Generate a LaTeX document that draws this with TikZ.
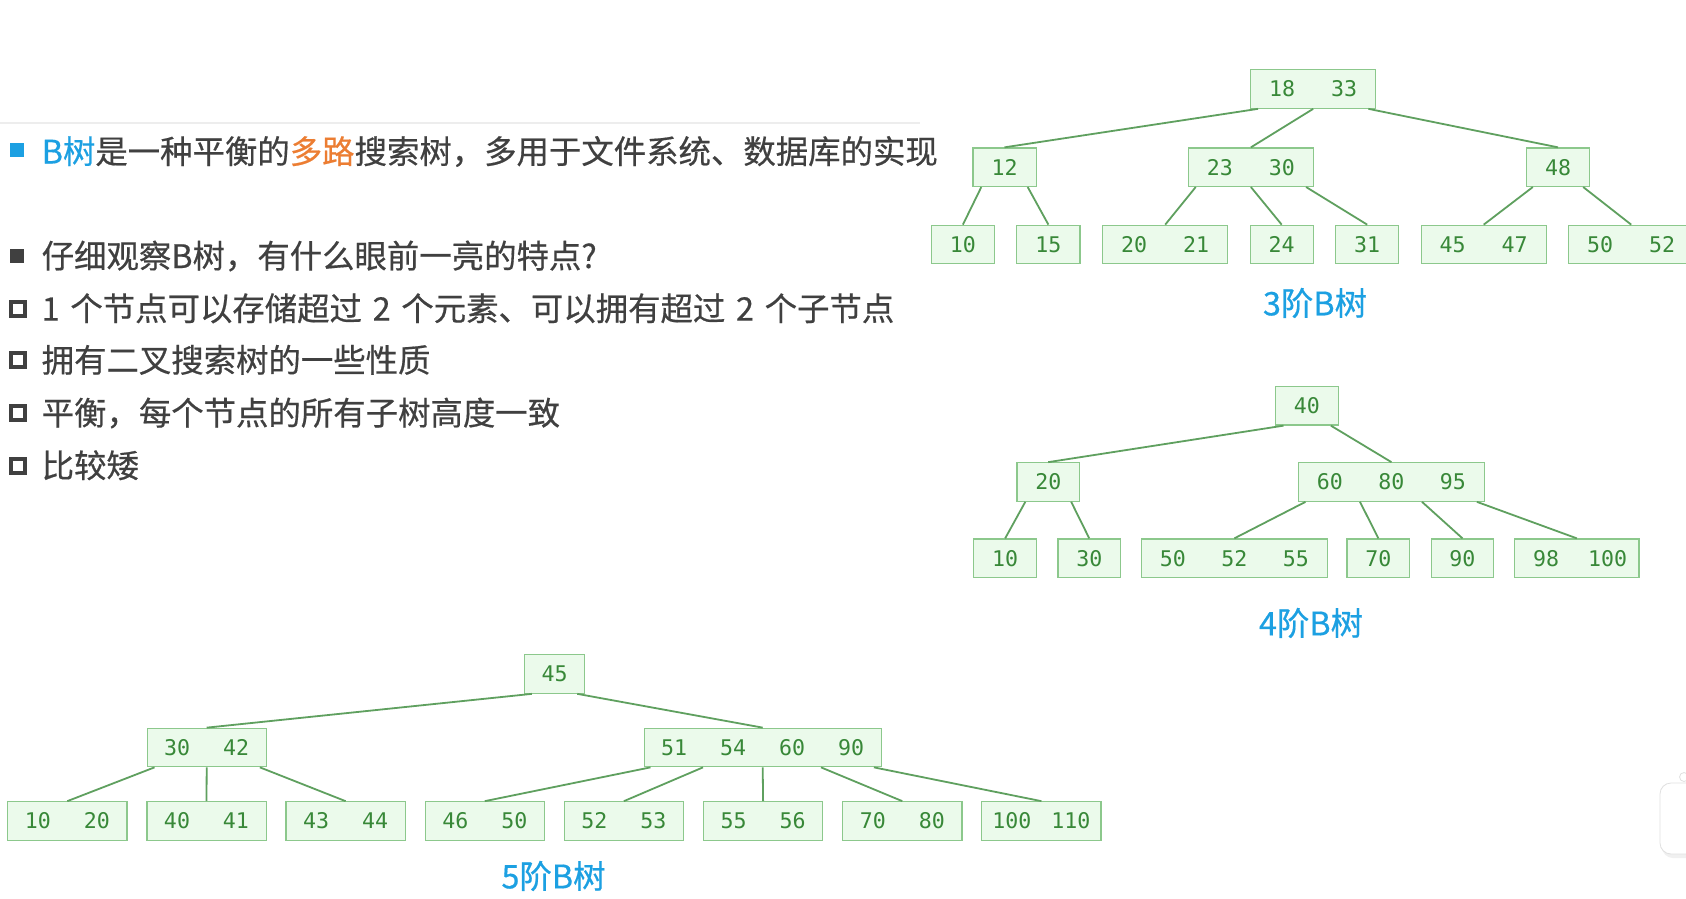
\documentclass[tikz,border=0pt]{standalone}
\usepackage{fontspec}
\newfontfamily\cjk[FakeBold=0.5]{Noto Sans CJK SC}
\newfontfamily\mono{DejaVu Sans Mono}
\definecolor{bfill}{RGB}{235,250,235}
\definecolor{bborder}{RGB}{140,200,140}
\definecolor{btext}{RGB}{56,136,56}
\definecolor{bline}{RGB}{95,160,95}
\definecolor{lblue}{RGB}{28,160,226}
\definecolor{orng}{RGB}{236,125,50}
\definecolor{tgray}{RGB}{64,64,64}
\newlength\cellw
\newcommand\kc[1]{\makebox[\cellw][c]{#1}}
\newcommand\wsp{\hspace{0.33em}}
\tikzset{
  bnode/.style={draw=bborder, fill=bfill, line width=1.2pt, inner xsep=0.6pt, inner ysep=0pt,
    minimum height=38.5pt, anchor=west, font=\mono\fontsize{21.6}{24}\selectfont, text=btext},
  blink/.style={draw=bline, line width=1.8pt},
  treelabel/.style={font=\cjk\fontsize{32.4}{36}\selectfont, text=lblue, inner sep=0pt},
  bodytext/.style={anchor=base west, font=\cjk\fontsize{32.4}{36}\selectfont, text=tgray, inner sep=0pt},
  fullbullet/.style={inner sep=0pt, minimum size=14pt},
  hollowbullet/.style={draw=tgray, line width=4pt, inner sep=0pt, minimum size=14pt},
}
\begin{document}
\begin{tikzpicture}[x=1pt,y=-1pt]
\useasboundingbox (0,0) rectangle (1686,899);
\fill[white] (0,0) rectangle (1686,899);

% faint separator
\draw[black!7, line width=1.5pt] (0,123) -- (920,123);

% ---------- text block ----------
\node[fullbullet, fill=lblue] (b1) at (16.5,150) {};
\node[bodytext] (t1) at (41.5,163.5) {\textcolor{lblue}{B树}是一种平衡的\textcolor{orng}{多路}搜索树，多用于文件系统、数据库的实现};
\node[fullbullet, fill=tgray] (b2) at (16.5,256) {};
\node[bodytext] (t2) at (41.5,268) {仔细观察B树，有什么眼前一亮的特点?};
\node[hollowbullet] (b3) at (18.3,308.6) {};
\node[bodytext] (t3) at (41.5,320.6) {1\wsp 个节点可以存储超过\wsp 2\wsp 个元素、可以拥有超过\wsp 2\wsp 个子节点};
\node[hollowbullet] (b4) at (18.3,360.2) {};
\node[bodytext] (t4) at (41.5,372.2) {拥有二叉搜索树的一些性质};
\node[hollowbullet] (b5) at (18.3,413) {};
\node[bodytext] (t5) at (41.5,425) {平衡，每个节点的所有子树高度一致};
\node[hollowbullet] (b6) at (18.3,465.6) {};
\node[bodytext] (t6) at (41.5,477.6) {比较矮};

% ---------- 3-order B-tree ----------
\setlength\cellw{62pt}
\node[bnode] (r3) at (1250,89) {\kc{18}\kc{33}};
\node[bnode] (a3) at (972.3,167.2) {\kc{12}};
\node[bnode] (m3) at (1187.7,167.2) {\kc{23}\kc{30}};
\node[bnode] (c3) at (1525.8,167.2) {\kc{48}};
\node[bnode] (l31) at (930.7,244.5) {\kc{10}};
\node[bnode] (l32) at (1016.2,244.5) {\kc{15}};
\node[bnode] (l33) at (1102,244.5) {\kc{20}\kc{21}};
\node[bnode] (l34) at (1249.5,244.5) {\kc{24}};
\node[bnode] (l35) at (1335,244.5) {\kc{31}};
\node[bnode] (l36) at (1420.5,244.5) {\kc{45}\kc{47}};
\node[bnode] (l37) at (1568,244.5) {\kc{50}\kc{52}};
\draw[blink] ([xshift=8pt]r3.south west) -- (a3.north);
\draw[blink] (r3.south) -- (m3.north);
\draw[blink] ([xshift=-8pt]r3.south east) -- (c3.north);
\draw[blink] ([xshift=9pt]a3.south west) -- (l31.north);
\draw[blink] ([xshift=-9pt]a3.south east) -- (l32.north);
\draw[blink] ([xshift=8pt]m3.south west) -- (l33.north);
\draw[blink] (m3.south) -- (l34.north);
\draw[blink] ([xshift=-8pt]m3.south east) -- (l35.north);
\draw[blink] ([xshift=7pt]c3.south west) -- (l36.north);
\draw[blink] ([xshift=-7pt]c3.south east) -- (l37.north);
\node[treelabel] (lab3) at (1315,303) {3阶B树};

% ---------- 4-order B-tree ----------
\setlength\cellw{61.5pt}
\node[bnode] (r4) at (1275,405.8) {\kc{40}};
\node[bnode] (a4) at (1016.3,482) {\kc{20}};
\node[bnode] (c4) at (1298,482) {\kc{60}\kc{80}\kc{95}};
\node[bnode] (l41) at (973.2,558.2) {\kc{10}};
\node[bnode] (l42) at (1057.3,558.2) {\kc{30}};
\node[bnode] (l43) at (1140.9,558.2) {\kc{50}\kc{52}\kc{55}};
\node[bnode] (l44) at (1346.4,558.2) {\kc{70}};
\node[bnode] (l45) at (1430.5,558.2) {\kc{90}};
\node[bnode] (l46) at (1514.1,558.2) {\kc{98}\kc{100}};
\draw[blink] ([xshift=8.5pt]r4.south west) -- (a4.north);
\draw[blink] ([xshift=-8pt]r4.south east) -- (c4.north);
\draw[blink] ([xshift=9pt]a4.south west) -- (l41.north);
\draw[blink] ([xshift=-9pt]a4.south east) -- (l42.north);
\draw[blink] ([xshift=7.5pt]c4.south west) -- (l43.north);
\draw[blink] ([xshift=62pt]c4.south west) -- (l44.north);
\draw[blink] ([xshift=124pt]c4.south west) -- (l45.north);
\draw[blink] ([xshift=-8pt]c4.south east) -- (l46.north);
\node[treelabel] (lab4) at (1311,623) {4阶B树};

% ---------- 5-order B-tree ----------
\setlength\cellw{59pt}
\node[bnode] (r5) at (523.9,674) {\kc{45}};
\node[bnode] (a5) at (146.5,747.5) {\kc{30}\kc{42}};
\node[bnode] (c5) at (643.5,747.5) {\kc{51}\kc{54}\kc{60}\kc{90}};
\node[bnode] (l51) at (7.1,821) {\kc{10}\kc{20}};
\node[bnode] (l52) at (146.3,821) {\kc{40}\kc{41}};
\node[bnode] (l53) at (285.4,821) {\kc{43}\kc{44}};
\node[bnode] (l54) at (424.6,821) {\kc{46}\kc{50}};
\node[bnode] (l55) at (563.7,821) {\kc{52}\kc{53}};
\node[bnode] (l56) at (702.9,821) {\kc{55}\kc{56}};
\node[bnode] (l57) at (842.1,821) {\kc{70}\kc{80}};
\node[bnode] (l58) at (981.2,821) {\kc{100}\kc{110}};
\draw[blink] ([xshift=8pt]r5.south west) -- (a5.north);
\draw[blink] ([xshift=-8pt]r5.south east) -- (c5.north);
\draw[blink] ([xshift=8pt]a5.south west) -- (l51.north);
\draw[blink] (a5.south) -- (l52.north);
\draw[blink] ([xshift=-7pt]a5.south east) -- (l53.north);
\draw[blink] ([xshift=7pt]c5.south west) -- (l54.north);
\draw[blink] ([xshift=59.5pt]c5.south west) -- (l55.north);
\draw[blink] (c5.south) -- (l56.north);
\draw[blink] ([xshift=177.5pt]c5.south west) -- (l57.north);
\draw[blink] ([xshift=-8pt]c5.south east) -- (l58.north);
\node[treelabel] (lab5) at (553.5,876) {5阶B树};

% ---------- UI widget at the right edge ----------
\fill[black!6, rounded corners=11pt] (1662,787) rectangle (1700,858);
\draw[black!12, fill=white, line width=0.8pt, rounded corners=11pt] (1660,783) rectangle (1700,854);
\draw[black!12, fill=white, line width=0.8pt] (1684,777) circle (4.5);
\end{tikzpicture}
\end{document}
